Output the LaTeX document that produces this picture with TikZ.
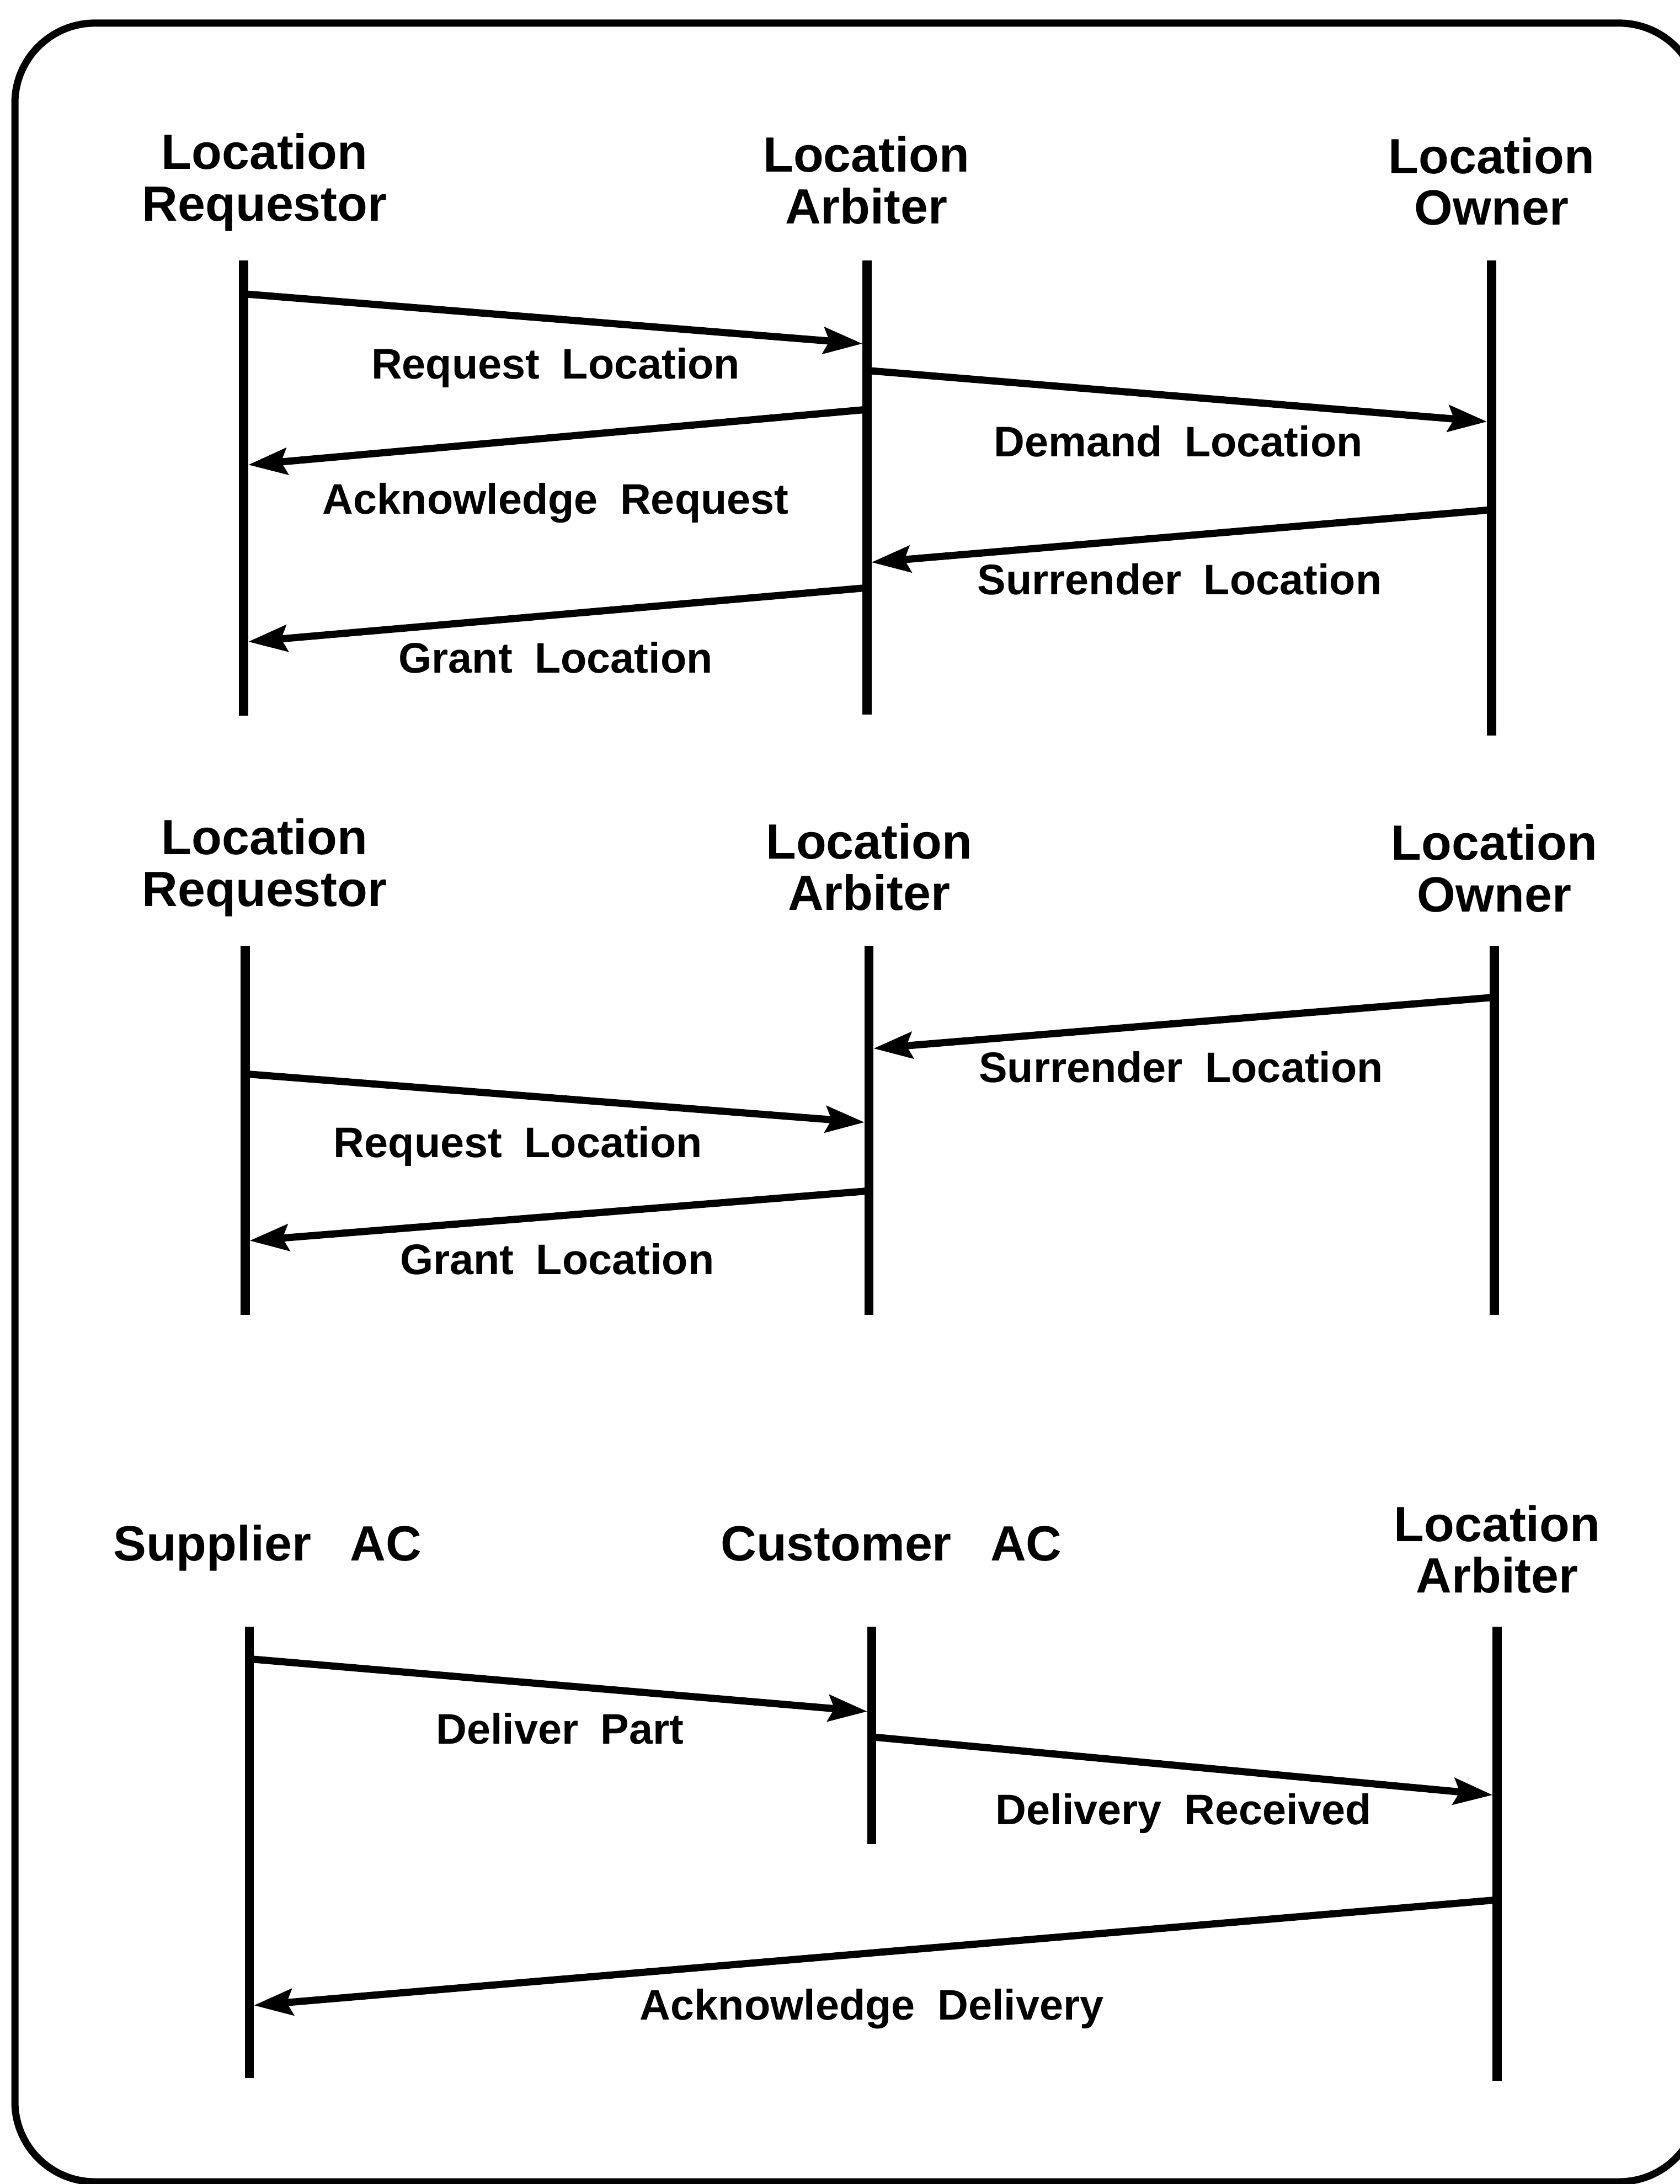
\documentclass[tikz,border=0pt]{standalone}
\usepackage{fontspec}
\setmainfont{Liberation Sans}
\usetikzlibrary{arrows.meta}
\newcommand{\hdrfont}{\fontsize{25.5}{26.6}\selectfont\bfseries\spaceskip 20pt\relax}
\newcommand{\lblfont}{\fontsize{22}{23}\selectfont\bfseries\spaceskip 11.5pt\relax}
\begin{document}
\begin{tikzpicture}[x=0.02523cm, y=-0.02523cm,
  lifeline/.style={line width=4.7pt},
  msg/.style={line width=3.7pt, -{Stealth[length=20pt,width=13.5pt,inset=3pt]}, shorten >=2.3pt},
  hdr/.style={font=\hdrfont, align=center, inner sep=0pt, anchor=north},
  lbl/.style={font=\lblfont, inner sep=0pt, anchor=base},
  frame/.style={line width=3.7pt, rounded corners=1.45cm}]
\useasboundingbox (0,0) rectangle (1206,1568);
\draw[frame] (10.7,16.6) rectangle (1220,1566.4);

% ---------- Section 1 ----------
\node[hdr] (r1) at (190,95.5) {Location\\Requestor};
\node[hdr] (a1) at (622,97.5) {Location\\Arbiter};
\node[hdr] (o1) at (1071,98.5) {Location\\Owner};
\coordinate (r1t) at (175,187);   \coordinate (r1b) at (175,514);
\coordinate (a1t) at (622.5,187); \coordinate (a1b) at (622.5,513);
\coordinate (o1t) at (1071,187);  \coordinate (o1b) at (1071,528);
\draw[lifeline] (r1t) -- (r1b);
\draw[lifeline] (a1t) -- (a1b);
\draw[lifeline] (o1t) -- (o1b);
\coordinate (m11s) at (175,211);   \coordinate (m11e) at (622.5,247);
\coordinate (m12s) at (622.5,266); \coordinate (m12e) at (1071,303);
\coordinate (m13s) at (622.5,294); \coordinate (m13e) at (175,334);
\coordinate (m14s) at (1071,366);  \coordinate (m14e) at (622.5,404);
\coordinate (m15s) at (622.5,422); \coordinate (m15e) at (175,461);
\draw[msg] (m11s) -- (m11e);
\draw[msg] (m12s) -- (m12e);
\draw[msg] (m13s) -- (m13e);
\draw[msg] (m14s) -- (m14e);
\draw[msg] (m15s) -- (m15e);
\node[lbl] (l11) at (399,272) {Request Location};
\node[lbl] (l12) at (846,328) {Demand Location};
\node[lbl] (l13) at (399,369) {Acknowledge Request};
\node[lbl] (l14) at (847,427) {Surrender Location};
\node[lbl] (l15) at (399,483) {Grant Location};

% ---------- Section 2 ----------
\node[hdr] (r2) at (190,587.5) {Location\\Requestor};
\node[hdr] (a2) at (624,590.5) {Location\\Arbiter};
\node[hdr] (o2) at (1073,591.5) {Location\\Owner};
\coordinate (r2t) at (176,679); \coordinate (r2b) at (176,944);
\coordinate (a2t) at (624,679); \coordinate (a2b) at (624,944);
\coordinate (o2t) at (1073,679); \coordinate (o2b) at (1073,944);
\draw[lifeline] (r2t) -- (r2b);
\draw[lifeline] (a2t) -- (a2b);
\draw[lifeline] (o2t) -- (o2b);
\coordinate (m21s) at (1073,716); \coordinate (m21e) at (624,753);
\coordinate (m22s) at (176,771);  \coordinate (m22e) at (624,806);
\coordinate (m23s) at (624,855);  \coordinate (m23e) at (176,891);
\draw[msg] (m21s) -- (m21e);
\draw[msg] (m22s) -- (m22e);
\draw[msg] (m23s) -- (m23e);
\node[lbl] (l21) at (848,777) {Surrender Location};
\node[lbl] (l22) at (372,831) {Request Location};
\node[lbl] (l23) at (400,915) {Grant Location};

% ---------- Section 3 ----------
\node[hdr] (s3) at (192,1094.5) {Supplier AC};
\node[hdr] (c3) at (640,1095.5) {Customer AC};
\node[hdr] (a3) at (1075,1080.5) {Location\\Arbiter};
\coordinate (s3t) at (179,1168); \coordinate (s3b) at (179,1492);
\coordinate (c3t) at (626,1168); \coordinate (c3b) at (626,1324);
\coordinate (a3t) at (1075,1168); \coordinate (a3b) at (1075,1494);
\draw[lifeline] (s3t) -- (s3b);
\draw[lifeline] (c3t) -- (c3b);
\draw[lifeline] (a3t) -- (a3b);
\coordinate (m31s) at (179,1191);  \coordinate (m31e) at (626,1229);
\coordinate (m32s) at (626,1247);  \coordinate (m32e) at (1075,1289);
\coordinate (m33s) at (1075,1364); \coordinate (m33e) at (179,1440);
\draw[msg] (m31s) -- (m31e);
\draw[msg] (m32s) -- (m32e);
\draw[msg] (m33s) -- (m33e);
\node[lbl] (l31) at (402,1252) {Deliver Part};
\node[lbl] (l32) at (850,1310) {Delivery Received};
\node[lbl] (l33) at (626,1450) {Acknowledge Delivery};
\end{tikzpicture}
\end{document}
